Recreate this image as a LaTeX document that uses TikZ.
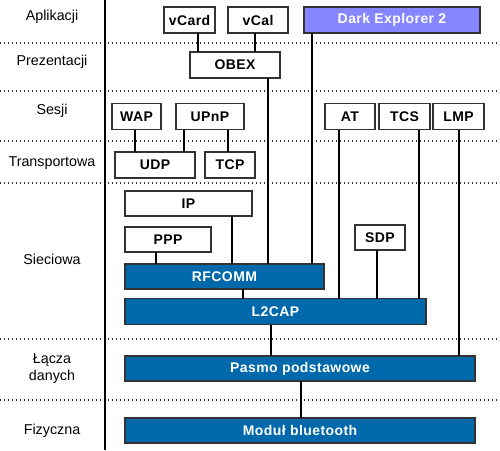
\documentclass[tikz,border=0pt]{standalone}
\usepackage{fontspec}
\setmainfont{Liberation Sans}
\newfontfamily\boxfont[LetterSpace=3]{Liberation Sans}
\definecolor{btblue}{HTML}{0069AB}
\definecolor{lav}{HTML}{8585FF}
\definecolor{bord}{HTML}{333333}
\begin{document}
\begin{tikzpicture}[x=1pt,y=-1pt,
  box/.style={draw=bord,line width=1.5pt,inner sep=0pt,outer sep=0pt,
    font=\boxfont\fontsize{14}{16}\selectfont\bfseries,minimum height=26pt},
  wbox/.style={box,fill=white,text=black},
  bbox/.style={box,fill=btblue,text=white},
  lbox/.style={box,fill=lav,text=white},
  conn/.style={line width=2pt,black},
  sep/.style={line width=1.3pt,dash pattern=on 1.3pt off 2.7pt,black!80},
  lay/.style={font=\fontsize{14.3}{17}\selectfont,align=center}]
\useasboundingbox (0,0) rectangle (500,450);
% layer separators
\foreach \y in {43,91,141,183,339,400} \draw[sep] (0,\y) -- (500,\y);
\draw[line width=2pt] (105,0) -- (105,450);
% layer labels
\node[lay] (l1) at (52,17) {Aplikacji};
\node[lay] (l2) at (52,62) {Prezentacji};
\node[lay] (l3) at (52,111) {Sesji};
\node[lay] (l4) at (52,163) {Transportowa};
\node[lay] (l5) at (52,259) {Sieciowa};
\node[lay] (l6) at (52,369) {Łącza\\danych};
\node[lay] (l7) at (52,431) {Fizyczna};
% boxes
\node[wbox,minimum width=51pt] (vcard) at (189.5,20) {vCard};
\node[wbox,minimum width=60pt] (vcal) at (258,20) {vCal};
\node[lbox,minimum width=176pt] (dark) at (392,20) {Dark Explorer 2};
\node[wbox,minimum width=90pt] (obex) at (235,65) {OBEX};
\node[wbox,minimum width=49pt] (wap) at (136.5,116.5) {WAP};
\node[wbox,minimum width=68pt] (upnp) at (210,116.5) {UPnP};
\node[wbox,minimum width=50pt] (at) at (350,116.5) {AT};
\node[wbox,minimum width=51pt] (tcs) at (404.5,116.5) {TCS};
\node[wbox,minimum width=51pt] (lmp) at (458.5,116.5) {LMP};
\node[wbox,minimum width=80pt] (udp) at (155,165) {UDP};
\node[wbox,minimum width=50pt] (tcp) at (230,165) {TCP};
\node[wbox,minimum width=127pt,minimum height=25pt] (ip) at (188.5,203.5) {IP};
\node[wbox,minimum width=86pt,minimum height=25pt] (ppp) at (168,239.5) {PPP};
\node[wbox,minimum width=50pt,minimum height=25pt] (sdp) at (380,237.5) {SDP};
\node[bbox,minimum width=199pt,minimum height=25pt] (rfcomm) at (224.5,276.5) {RFCOMM};
\node[bbox,minimum width=301pt,minimum height=26pt] (l2cap) at (275.5,311.5) {L2CAP};
\node[bbox,minimum width=350pt,minimum height=25pt] (pasmo) at (300,368.5) {Pasmo podstawowe};
\node[bbox,minimum width=350pt,minimum height=25pt] (modul) at (300,430.5) {Moduł bluetooth};
% connectors
\draw[conn] (198,0 |- vcard.south) -- (198,0 |- obex.north);
\draw[conn] (255,0 |- vcal.south) -- (255,0 |- obex.north);
\draw[conn] (268,0 |- obex.south) -- (268,0 |- rfcomm.north);
\draw[conn] (312,0 |- dark.south) -- (312,0 |- rfcomm.north);
\draw[conn] (135,0 |- wap.south) -- (135,0 |- udp.north);
\draw[conn] (184,0 |- upnp.south) -- (184,0 |- udp.north);
\draw[conn] (228,0 |- upnp.south) -- (228,0 |- tcp.north);
\draw[conn] (339,0 |- at.south) -- (339,0 |- l2cap.north);
\draw[conn] (419,0 |- tcs.south) -- (419,0 |- l2cap.north);
\draw[conn] (459,0 |- lmp.south) -- (459,0 |- pasmo.north);
\draw[conn] (232,0 |- ip.south) -- (232,0 |- rfcomm.north);
\draw[conn] (156,0 |- ppp.south) -- (156,0 |- rfcomm.north);
\draw[conn] (377,0 |- sdp.south) -- (377,0 |- l2cap.north);
\draw[conn] (243,0 |- rfcomm.south) -- (243,0 |- l2cap.north);
\draw[conn] (271,0 |- l2cap.south) -- (271,0 |- pasmo.north);
\draw[conn] (301,0 |- pasmo.south) -- (301,0 |- modul.north);
\end{tikzpicture}
\end{document}
